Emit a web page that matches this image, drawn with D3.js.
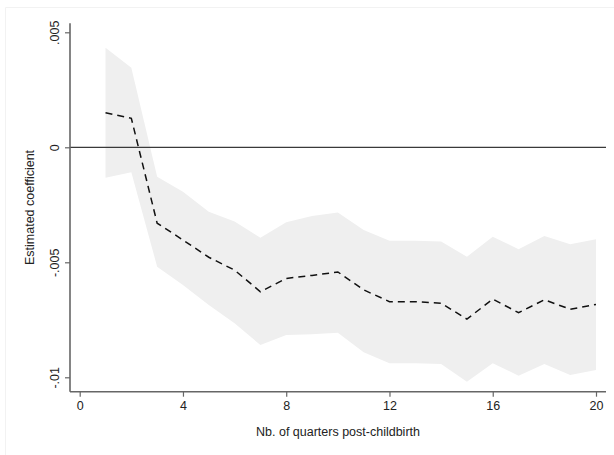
<!DOCTYPE html>
<html><head><meta charset="utf-8">
<script src="https://cdn.jsdelivr.net/npm/d3@7"></script>
<style>body{margin:0;background:#fff}svg{display:block}</style>
</head><body>
<svg id="chart" width="614" height="455"></svg>
<script>
const quarters = [1,2,3,4,5,6,7,8,9,10,11,12,13,14,15,16,17,18,19,20];
const coef  = [0.0015,0.00126,-0.0033,-0.00403,-0.00478,-0.00534,-0.00628,-0.0057,-0.00557,-0.00542,-0.0062,-0.00671,-0.00671,-0.00678,-0.00747,-0.0066,-0.00719,-0.00663,-0.00704,-0.00683];
const upper = [0.00433,0.00346,-0.00128,-0.00193,-0.0028,-0.00323,-0.00393,-0.00326,-0.00299,-0.00284,-0.0036,-0.00406,-0.00406,-0.0041,-0.00476,-0.00389,-0.00443,-0.00386,-0.00422,-0.004];
const lower = [-0.00132,-0.00109,-0.00519,-0.00599,-0.00686,-0.00765,-0.0086,-0.00816,-0.00813,-0.00806,-0.00891,-0.00939,-0.00939,-0.00942,-0.01019,-0.00939,-0.00993,-0.00942,-0.0099,-0.00968];
const xTicks = [0,4,8,12,16,20];
const yTicks = [0.005,0,-0.005,-0.01];
const yTickLabels = [".005","0","-.005","-.01"];
const xTitle = "Nb. of quarters post-childbirth";
const yTitle = "Estimated coefficient";

const svg = d3.select("#chart");
const pL = 70, pR = 606, pT = 23.3, pB = 391.7;
const x = d3.scaleLinear().domain([0,20]).range([79.7,596]);
const y = d3.scaleLinear().domain([0,0.005]).range([147.3,32.3]);
const font = "'Liberation Sans', Arial, sans-serif";

// outer faint border (top and left only visible)
svg.append("path").attr("d","M5.5,455V7.5H614")
  .attr("fill","none").attr("stroke","#f2f2f2").attr("stroke-width",1);

const data = quarters.map((q,i)=>({q, c:coef[i], u:upper[i], l:lower[i]}));

svg.append("path").datum(data)
  .attr("d", d3.area().x(d=>x(d.q)).y0(d=>y(d.l)).y1(d=>y(d.u)))
  .attr("fill","#efefef");

// zero line
svg.append("line").attr("x1",pL).attr("x2",pR).attr("y1",y(0)).attr("y2",y(0))
  .attr("stroke","#3a3a3a").attr("stroke-width",1.3);

svg.append("path").datum(data)
  .attr("d", d3.line().x(d=>x(d.q)).y(d=>y(d.c)))
  .attr("fill","none").attr("stroke","#111").attr("stroke-width",1.5)
  .attr("stroke-dasharray","7,5");

// axes
const xAxis = d3.axisBottom(x).tickValues(xTicks).tickSize(5).tickSizeOuter(0).tickPadding(4);
const gx = svg.append("g").attr("transform",`translate(0,${pB})`).call(xAxis);
gx.select(".domain").attr("d",`M${pL},0H${pR}`).attr("stroke","#666").attr("stroke-width",1.6);
gx.selectAll(".tick line").attr("stroke","#666").attr("stroke-width",1.2);
gx.selectAll(".tick text").attr("font-family",font).attr("font-size",12.5).attr("fill","#222");

const yAxis = d3.axisLeft(y).tickValues(yTicks).tickFormat((d,i)=>yTickLabels[i]).tickSize(5).tickSizeOuter(0);
const gy = svg.append("g").attr("transform",`translate(${pL},0)`).call(yAxis);
gy.select(".domain").attr("d",`M0,${pT}V${pB}`).attr("stroke","#666").attr("stroke-width",1.6);
gy.selectAll(".tick line").attr("stroke","#666").attr("stroke-width",1.2);
gy.selectAll(".tick text").attr("font-family",font).attr("font-size",12.5).attr("fill","#222")
  .attr("x",0).attr("dy",0).attr("text-anchor","middle")
  .attr("transform","translate(-11,0) rotate(-90)");

svg.append("text").attr("x",(pL+pR)/2).attr("y",436).attr("text-anchor","middle")
  .attr("font-family",font).attr("font-size",12.5).attr("fill","#222").text(xTitle);
svg.append("text").attr("transform",`translate(34,${(pT+pB)/2}) rotate(-90)`)
  .attr("text-anchor","middle").attr("font-family",font).attr("font-size",12.5).attr("fill","#222").text(yTitle);
</script>
</body></html>
